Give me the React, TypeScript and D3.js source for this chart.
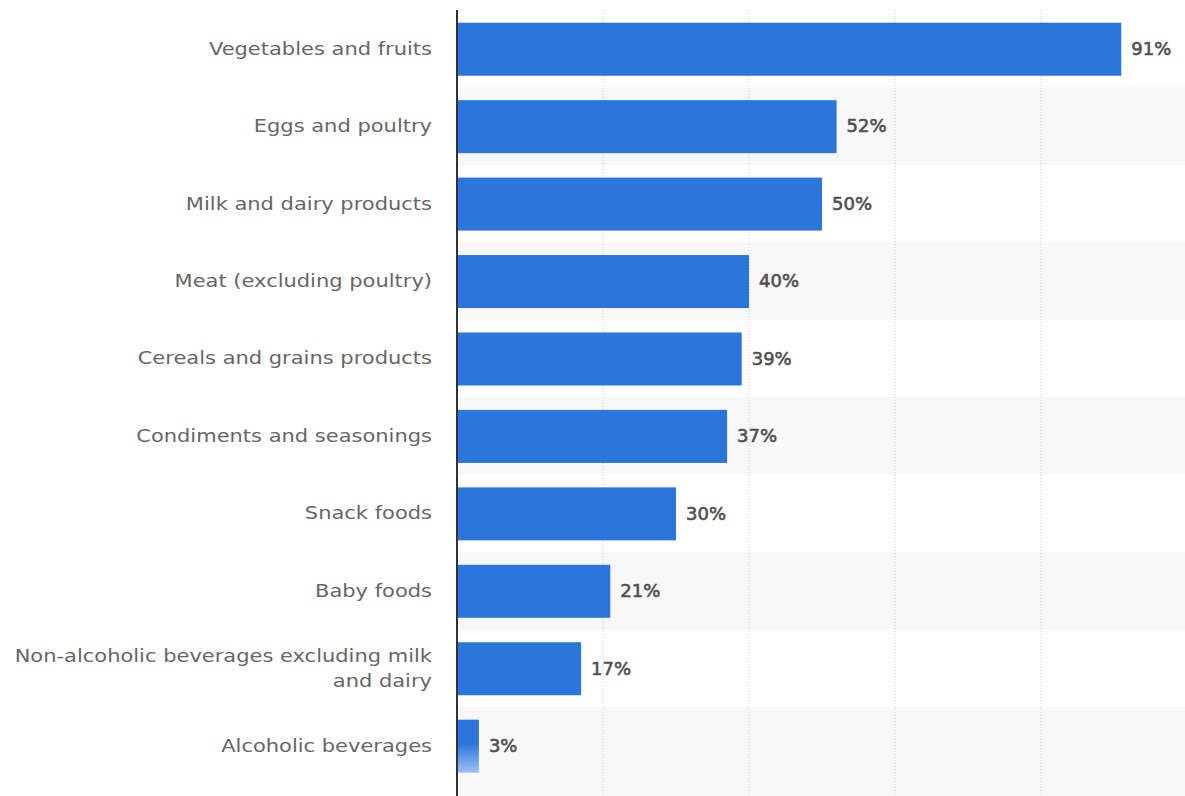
import React from "react";
import * as d3 from "d3";

const categories = [
  "Vegetables and fruits",
  "Eggs and poultry",
  "Milk and dairy products",
  "Meat (excluding poultry)",
  "Cereals and grains products",
  "Condiments and seasonings",
  "Snack foods",
  "Baby foods",
  "Non-alcoholic beverages excluding milk and dairy",
  "Alcoholic beverages",
];
const values = [91, 52, 50, 40, 39, 37, 30, 21, 17, 3];
const gridTicks = [20, 40, 60, 80];

const labelLines: Record<string, string[]> = {
  "Non-alcoholic beverages excluding milk and dairy": [
    "Non-alcoholic beverages excluding milk",
    "and dairy",
  ],
};

const W = 1185;
const H = 796;
const left = 457;
const top = 10;

export default function App() {
  const x = d3.scaleLinear().domain([0, 100]).range([left, 1187]);
  const y = d3
    .scaleBand<string>()
    .domain(categories)
    .range([top, top + 77.44 * categories.length])
    .padding(0);
  const step = y.step();
  const barH = 53;
  const font = "DejaVu Sans";

  return (
    <svg
      width={W}
      height={H}
      style={{ position: "absolute", left: 0, top: 0, background: "#fff", fontFamily: font }}
    >
      <defs>
        <linearGradient id="fade" x1="0" y1="0" x2="0" y2="1">
          <stop offset="0" stopColor="#2a76dd" />
          <stop offset="0.45" stopColor="#2a76dd" />
          <stop offset="1" stopColor="#9cc0f0" />
        </linearGradient>
      </defs>
      {categories.map((c, i) =>
        i % 2 === 1 ? (
          <rect
            key={"s" + c}
            x={left}
            y={y(c)!}
            width={W - left}
            height={i === categories.length - 1 ? H - y(c)! : step}
            fill="#f8f8f8"
          />
        ) : null
      )}
      {gridTicks.map((t) => (
        <line
          key={"g" + t}
          x1={x(t)}
          x2={x(t)}
          y1={top}
          y2={H}
          stroke="#c8c8c8"
          strokeWidth={1}
          strokeDasharray="1,2"
        />
      ))}
      {categories.map((c, i) => {
        const cy = y(c)! + step / 2;
        const isLast = i === categories.length - 1;
        return (
          <g key={c}>
            <rect
              x={x(0)}
              y={cy - barH / 2 + 0.5}
              width={x(values[i]) - x(0)}
              height={barH}
              fill={isLast ? "url(#fade)" : "#2a76dd"}
            />
            <text
              x={x(values[i]) + 10}
              y={cy}
              dy="0.35em"
              fontSize={18}
              fill="#4f4f4f"
              stroke="#4f4f4f"
              strokeWidth={0.6}
              style={{ fontFamily: font }}
            >
              {values[i]}%
            </text>
          </g>
        );
      })}
      {categories.map((c) => {
        const cy = y(c)! + step / 2;
        const lines = labelLines[c] || [c];
        const lh = 25;
        return (
          <text
            key={"l" + c}
            textAnchor="end"
            fontSize={17}
            fill="#666"
            transform={`translate(432,0) scale(1.235,1)`}
            style={{ fontFamily: font }}
          >
            {lines.map((ln, j) => (
              <tspan
                key={j}
                x={0}
                y={cy + (j - (lines.length - 1) / 2) * lh}
                dy="0.35em"
              >
                {ln}
              </tspan>
            ))}
          </text>
        );
      })}
      <line x1={x(0)} x2={x(0)} y1={top} y2={H} stroke="#333" strokeWidth={2} />
    </svg>
  );
}
